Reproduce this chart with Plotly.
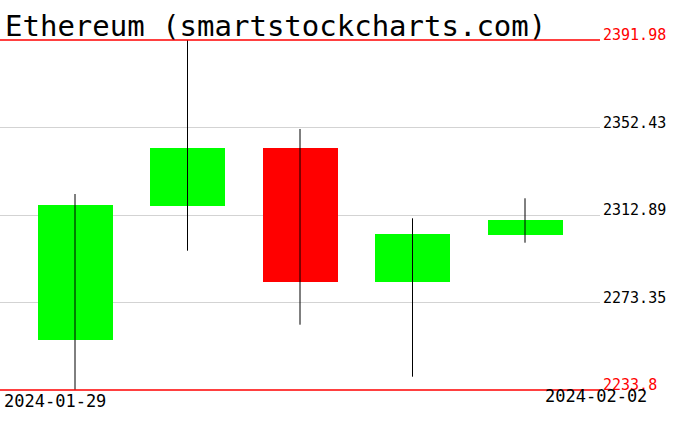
"""Ethereum daily candles, smartstockcharts style."""

import plotly.graph_objects as go

dates = ["2024-01-29", "2024-01-30", "2024-01-31", "2024-02-01", "2024-02-02"]
opens = [2256.40, 2316.96, 2343.17, 2282.75, 2303.85]
highs = [2322.38, 2391.98, 2351.76, 2311.40, 2320.44]
lows = [2233.80, 2296.76, 2263.31, 2239.81, 2300.37]
closes = [2317.41, 2343.17, 2282.61, 2304.30, 2310.63]
price_ticks = [2233.8, 2273.35, 2312.89, 2352.43, 2391.98]

DAY_MS = 86400000
FONT = "DejaVu Sans Mono"

hi, lo = max(highs), min(lows)
pad = (hi - lo) / 350  # about one pixel so the red edge lines are not clipped
colors = ["#00ff00" if c >= o else "#ff0000" for o, c in zip(opens, closes)]

wick_x, wick_y = [], []
for d, h, l in zip(dates, highs, lows):
    wick_x += [d, d, None]
    wick_y += [l, h, None]

fig = go.Figure()
fig.add_trace(go.Scatter(x=wick_x, y=wick_y, mode="lines",
                         line=dict(color="black", width=1), hoverinfo="skip"))
fig.add_trace(go.Bar(x=dates, y=[c - o for o, c in zip(opens, closes)], base=opens,
                     width=DAY_MS * 2 / 3, marker=dict(color=colors, line=dict(width=0)),
                     hoverinfo="skip"))

for v in (hi, lo):
    fig.add_shape(type="line", xref="paper", x0=0, x1=1, y0=v, y1=v,
                  line=dict(color="#ff0000", width=1.5), layer="above")

ticktext = [f"{v:g}" for v in price_ticks]
ticktext = [f'<span style="color:#ff0000">{t}</span>' if v in (hi, lo) else t
            for v, t in zip(price_ticks, ticktext)]

fig.update_layout(
    width=676, height=431,
    margin=dict(l=0, r=76, t=39, b=40, autoexpand=False),
    paper_bgcolor="white", plot_bgcolor="white",
    showlegend=False, bargap=0,
    font=dict(family=FONT, size=15, color="black"),
    xaxis=dict(type="date", showticklabels=False, showgrid=False, zeroline=False,
               range=["2024-01-28 08:00", "2024-02-02 16:00"]),
    yaxis=dict(side="right", range=[lo - pad, hi + pad], tickvals=price_ticks,
               ticktext=ticktext, showgrid=True, gridcolor="#d3d3d3", gridwidth=1,
               zeroline=False, ticks="", ticklabelshift=-5, ticklabelstandoff=2),
    annotations=[
        dict(text="Ethereum (smartstockcharts.com)", xref="paper", yref="paper",
             x=0, y=1, xanchor="left", yanchor="bottom", xshift=3, yshift=-6,
             showarrow=False, font=dict(size=29)),
        dict(text=dates[0], xref="paper", yref="paper", x=0, y=0,
             xanchor="left", yanchor="top", xshift=2, yshift=2, showarrow=False,
             font=dict(size=17)),
        dict(text=dates[-1], xref="paper", yref="paper", x=1, y=0,
             xanchor="right", yanchor="top", xshift=49, yshift=7, showarrow=False,
             font=dict(size=17)),
    ],
)

# the page's default body margin would push the chart 8px off the corner
fig.write_html("out.html", config={"displayModeBar": False},
               post_script="document.body.style.margin = '0';")
